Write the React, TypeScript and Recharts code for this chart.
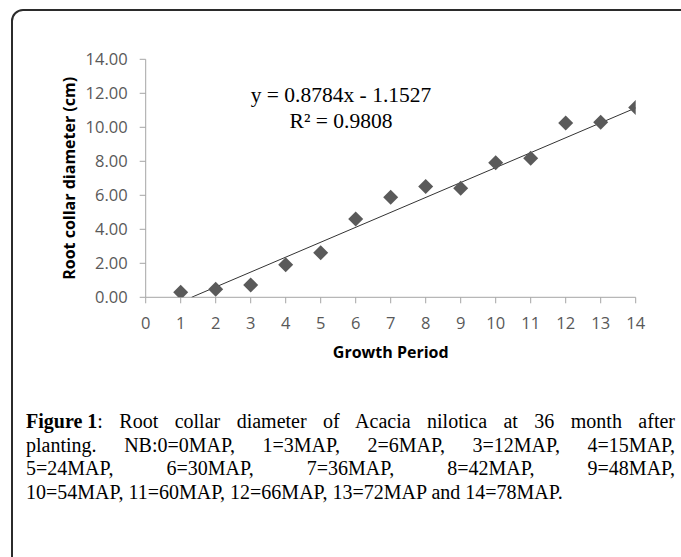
import { ReferenceLine, Scatter, ScatterChart, XAxis, YAxis } from "recharts";

// growth period index vs. root collar diameter (cm)
const PERIODS = [1, 2, 3, 4, 5, 6, 7, 8, 9, 10, 11, 12, 13, 14];
const DIAMETERS = [0.29, 0.47, 0.72, 1.92, 2.62, 4.6, 5.88, 6.52, 6.41, 7.92, 8.18, 10.25, 10.3, 11.17];

const X_TICKS = [0, 1, 2, 3, 4, 5, 6, 7, 8, 9, 10, 11, 12, 13, 14];
const Y_TICKS = [0, 2, 4, 6, 8, 10, 12, 14];

// ends of the linear trendline as drawn
const TREND_X = [1.31, 14];
const TREND_Y = [0, 11.14];

const EQUATION = "y = 0.8784x - 1.1527";
const R_SQUARED = "R\u00b2 = 0.9808";

const CAPTION_LINES = [
  "Root collar diameter of Acacia nilotica at 36 month after",
  "planting. NB:0=0MAP, 1=3MAP, 2=6MAP, 3=12MAP, 4=15MAP,",
  "5=24MAP, 6=30MAP, 7=36MAP, 8=42MAP, 9=48MAP,",
  "10=54MAP, 11=60MAP, 12=66MAP, 13=72MAP and 14=78MAP.",
];

const AXIS_COLOR = "#a6a6a6";
const SANS = '"Open Sans", sans-serif';
const TICK_STYLE = { fill: "#595959", fontSize: 16.5, fontFamily: SANS };
const SERIF = '"Liberation Serif", "Times New Roman", serif';

const points = PERIODS.map((x, i) => ({ x, y: DIAMETERS[i] }));

function Diamond(props: any) {
  const { cx, cy } = props;
  const r = 7.5;
  return (
    <path
      d={`M${cx},${cy - r}L${cx + r},${cy}L${cx},${cy + r}L${cx - r},${cy}Z`}
      fill="#5a5a5a"
    />
  );
}

function YTitle(props: any) {
  const { viewBox } = props;
  const cy = viewBox.y + viewBox.height / 2;
  const x = 75;
  return (
    <text
      x={x}
      y={cy}
      transform={`rotate(-90 ${x} ${cy})`}
      textAnchor="middle"
      fill="#000"
      fontSize={16}
      fontWeight="bold"
      fontFamily={SANS}
    >
      Root collar diameter (cm)
    </text>
  );
}

function XTitle(props: any) {
  const { viewBox } = props;
  const cx = viewBox.x + viewBox.width / 2;
  return (
    <text
      x={cx}
      y={358}
      textAnchor="middle"
      fill="#000"
      fontSize={16}
      fontWeight="bold"
      fontFamily={SANS}
    >
      Growth Period
    </text>
  );
}

export default function App() {
  return (
    <div
      style={{
        position: "absolute",
        left: 0,
        top: 0,
        width: 681,
        height: 557,
        overflow: "hidden",
        background: "#fff",
      }}
    >
      <div
        style={{
          position: "absolute",
          left: 11,
          top: 9,
          width: 720,
          height: 620,
          border: "2px solid #2b2b2b",
          borderRadius: 12,
        }}
      />

      <div style={{ position: "absolute", left: 0, top: 0 }}>
        <ScatterChart
          width={681}
          height={380}
          margin={{ top: 59.3, right: 45.3, bottom: 22.7, left: 65.7 }}
        >
          <XAxis
            type="number"
            dataKey="x"
            domain={[0, 14]}
            ticks={X_TICKS}
            interval={0}
            allowDataOverflow
            height={60}
            stroke={AXIS_COLOR}
            tickSize={6}
            tickMargin={14}
            tick={TICK_STYLE}
            label={<XTitle />}
          />
          <YAxis
            type="number"
            dataKey="y"
            domain={[0, 14]}
            ticks={Y_TICKS}
            interval={0}
            allowDataOverflow
            width={80}
            stroke={AXIS_COLOR}
            tickSize={6}
            tickMargin={12}
            tick={TICK_STYLE}
            tickFormatter={(v: number) => v.toFixed(2)}
            label={<YTitle />}
          />
          <Scatter data={points} shape={<Diamond />} isAnimationActive={false} />
          <ReferenceLine
            segment={[
              { x: TREND_X[0], y: TREND_Y[0] },
              { x: TREND_X[1], y: TREND_Y[1] },
            ]}
            stroke="#333"
            strokeWidth={1}
          />
        </ScatterChart>
      </div>

      <div
        style={{
          position: "absolute",
          left: 190,
          top: 82,
          width: 302,
          textAlign: "center",
          fontFamily: SERIF,
          fontSize: 21.5,
          lineHeight: "26px",
          color: "#000",
          whiteSpace: "pre",
        }}
      >
        <div>{EQUATION}</div>
        <div>{R_SQUARED}</div>
      </div>

      <div
        style={{
          position: "absolute",
          left: 26,
          top: 410,
          width: 649,
          fontFamily: SERIF,
          fontSize: 20,
          lineHeight: "23.5px",
          color: "#000",
        }}
      >
        {CAPTION_LINES.map((line, i) => (
          <div
            key={i}
            style={{
              textAlign: i < 3 ? "justify" : "left",
              textAlignLast: i < 3 ? "justify" : "left",
            }}
          >
            {i === 0 ? (
              <>
                <b style={{ display: "inline-block", textAlignLast: "auto" }}>Figure 1</b>: {line}
              </>
            ) : (
              line
            )}
          </div>
        ))}
      </div>
    </div>
  );
}
